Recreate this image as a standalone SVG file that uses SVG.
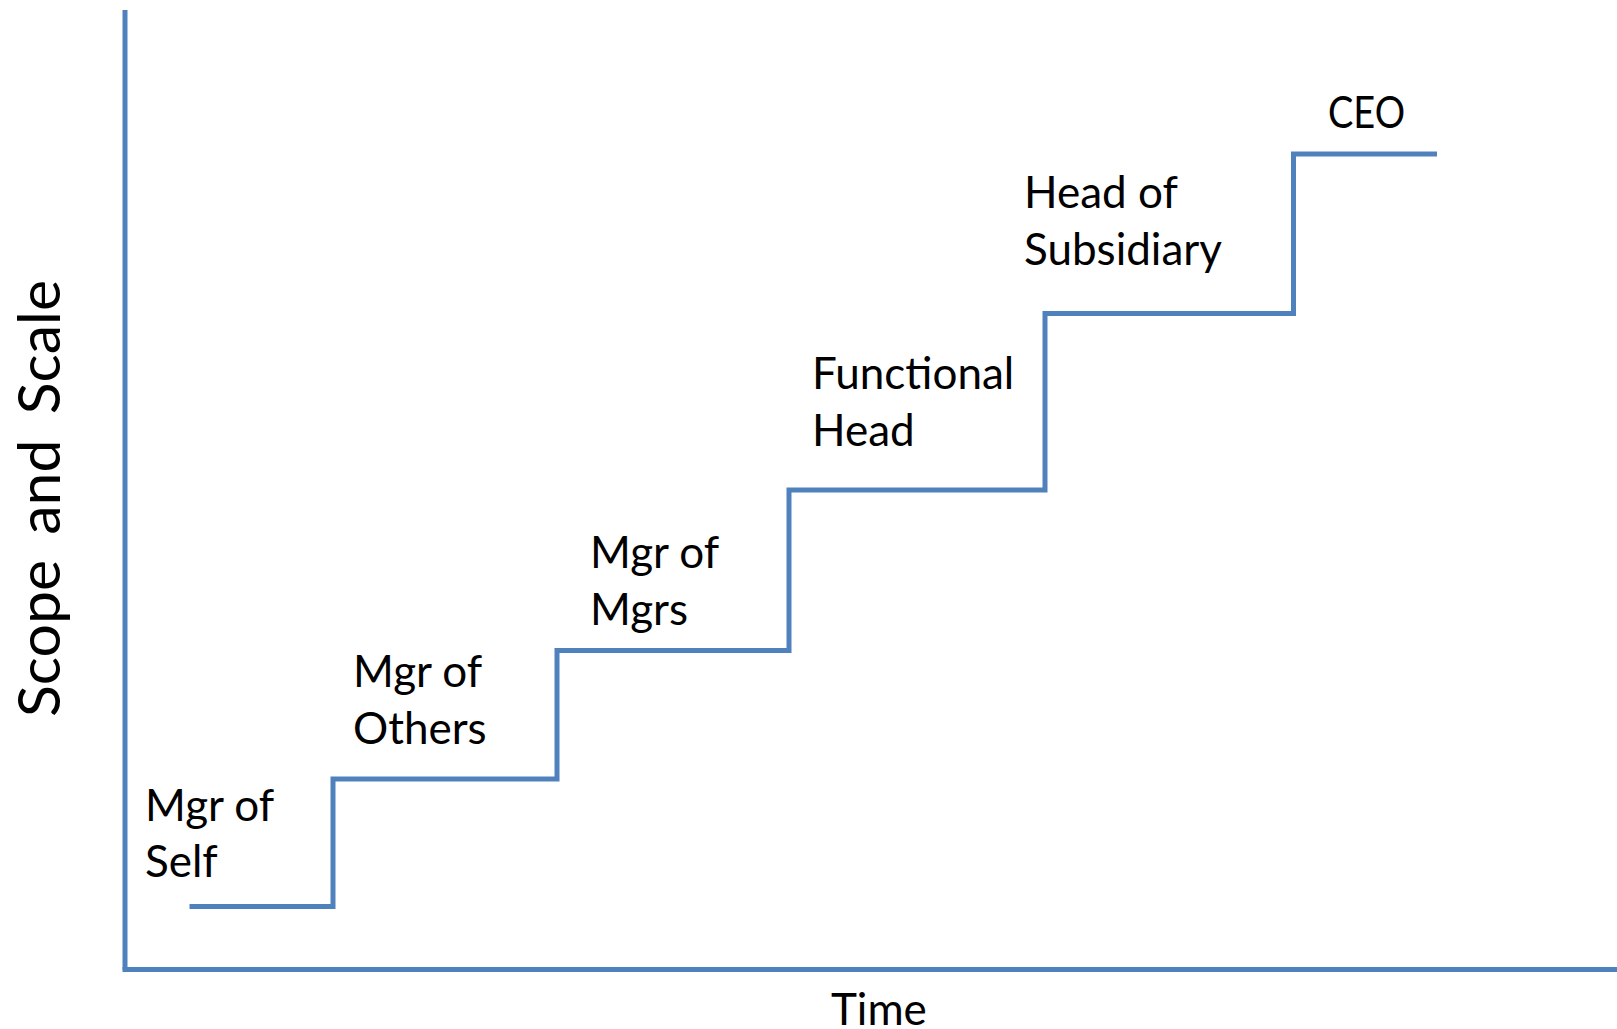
<svg xmlns="http://www.w3.org/2000/svg" width="1617" height="1029" viewBox="0 0 1617 1029">
<style>
.ln{fill:none;stroke:#4F81BD;stroke-width:5;stroke-linejoin:miter;stroke-linecap:butt}
.t{font-family:"Lato","Liberation Sans",sans-serif;font-size:44px;fill:#000}
.ax{font-family:"Lato","Liberation Sans",sans-serif;font-size:59px;fill:#000}
</style>
<rect width="1617" height="1029" fill="#fff"/>
<g id="connectors">
<path id="y-axis" class="ln" d="M125 10 V969.5"/>
<path id="x-axis" class="ln" d="M122.5 969.5 H1617"/>
<path id="staircase" class="ln" d="M189.5 906.5 H333 V779 H557 V650.5 H789 V490 H1045 V313.5 H1293.5 V154 H1437"/>
</g>
<g id="label-self"><text class="t" x="145" y="821">Mgr of</text><text class="t" x="145" y="877">Self</text></g>
<g id="label-others"><text class="t" x="353" y="687">Mgr of</text><text class="t" x="353" y="744">Others</text></g>
<g id="label-mgrs"><text class="t" x="590" y="568">Mgr of</text><text class="t" x="590" y="625">Mgrs</text></g>
<g id="label-functional"><text class="t" x="812" y="389">Functional</text><text class="t" x="812" y="446">Head</text></g>
<g id="label-subsidiary"><text class="t" x="1024" y="208">Head of</text><text class="t" x="1024" y="265">Subsidiary</text></g>
<g id="label-ceo"><text class="t" x="1328" y="128" textLength="77" lengthAdjust="spacingAndGlyphs">CEO</text></g>
<g id="axis-time"><text class="t" x="831" y="1025">Time</text></g>
<g id="axis-scope"><text class="ax" transform="translate(60 717) rotate(-90)" word-spacing="10">Scope and Scale</text></g>
</svg>
